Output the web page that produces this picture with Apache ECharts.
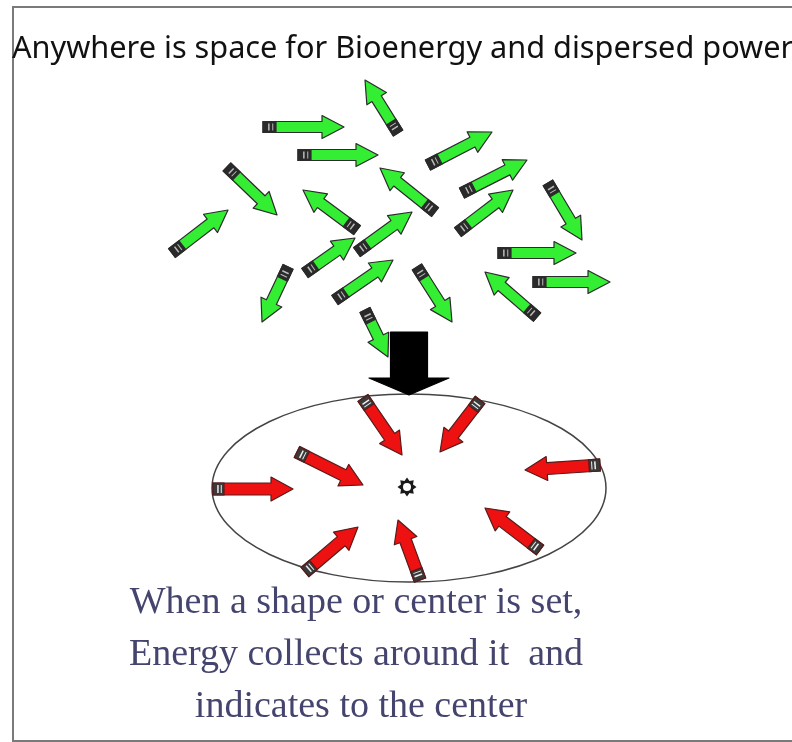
<!DOCTYPE html>
<html>
<head>
<meta charset="utf-8">
<script src="https://cdn.jsdelivr.net/npm/echarts@6/dist/echarts.min.js"></script>
<style>html,body{margin:0;padding:0;background:#fff}#c{width:792px;height:742px}</style>
</head>
<body>
<div id="c"></div>
<script>
// Scattered energy arrows: [tailX, tailY, headX, headY]
var greenArrows = [
  [398,133,365,80],
  [263,127,344,127],
  [298,155,378,155],
  [227,167,277,215],
  [172,253,228,210],
  [357,230,303,190],
  [435,212,380,168],
  [305,273,355,238],
  [357,252,412,212],
  [288,267,262,322],
  [335,300,393,260],
  [417,267,452,322],
  [365,310,388,357],
  [428,165,492,132],
  [462,193,527,160],
  [458,232,513,190],
  [548,183,582,240],
  [498,253,576,253],
  [533,282,610,282],
  [537,317,485,272]
];
// Collected arrows pointing to the center
var redArrows = [
  [363,398,402,455],
  [480,400,440,452],
  [297,452,363,485],
  [213,489,293,489],
  [600,465,525,470],
  [540,550,485,508],
  [420,580,398,520],
  [305,572,358,527]
];
var bigArrow = [[409,332,409,395]];
var ellipseData = [[409,488,197,94]];
var centerMark = [[407,487]];
var titleText = 'Anywhere is space for Bioenergy and dispersed power';
var captionLines = ['When a shape or center is set,', 'Energy collects around it  and', 'indicates to the center'];

function makeArrowRender(fill, stroke, w, h, hl, capLen, capFill, stripe) {
  return function (params, api) {
    var p1 = api.coord([api.value(0), api.value(1)]);
    var p2 = api.coord([api.value(2), api.value(3)]);
    var dx = p2[0] - p1[0], dy = p2[1] - p1[1];
    var L = Math.sqrt(dx * dx + dy * dy);
    var ang = Math.atan2(dy, dx);
    var pts = [[0,-w],[L-hl,-w],[L-hl,-h],[L,0],[L-hl,h],[L-hl,w],[0,w]];
    var children = [{
      type: 'polygon', shape: { points: pts },
      style: { fill: fill, stroke: stroke, lineWidth: 1.2, lineJoin: 'round' }
    }];
    if (capLen > 0) {
      children.push({ type: 'rect', shape: { x: 0, y: -w, width: capLen, height: 2 * w },
        style: { fill: capFill, stroke: stroke, lineWidth: 1.2 } });
      children.push({ type: 'line', shape: { x1: capLen * 0.45, y1: -w + 2, x2: capLen * 0.45, y2: w - 2 },
        style: { stroke: stripe, lineWidth: 1.5 } });
      children.push({ type: 'line', shape: { x1: capLen * 0.75, y1: -w + 2, x2: capLen * 0.75, y2: w - 2 },
        style: { stroke: stripe, lineWidth: 1 } });
    }
    return { type: 'group', x: p1[0], y: p1[1], rotation: -ang, children: children };
  };
}

var chart = echarts.init(document.getElementById('c'), null, { renderer: 'canvas' });
chart.setOption({
  animation: false,
  backgroundColor: '#ffffff',
  grid: { left: 0, right: 0, top: 0, bottom: 0, containLabel: false },
  xAxis: { type: 'value', min: 0, max: 792, show: false },
  yAxis: { type: 'value', min: 0, max: 742, inverse: true, show: false },
  graphic: [
    { type: 'rect', shape: { x: 13, y: 7, width: 800, height: 734 },
      style: { fill: 'none', stroke: '#7a7a7a', lineWidth: 2 }, z: 0 },
    { type: 'text', x: 12, y: 49,
      style: { text: titleText, font: '30.7px "Noto Sans"', fill: '#111', textVerticalAlign: 'middle' }, z: 10 },
    { type: 'text', x: 356, y: 603,
      style: { text: captionLines[0], font: '38px "Liberation Serif"', fill: '#44446e', textAlign: 'center', textVerticalAlign: 'middle' }, z: 10 },
    { type: 'text', x: 356, y: 655,
      style: { text: captionLines[1], font: '38px "Liberation Serif"', fill: '#44446e', textAlign: 'center', textVerticalAlign: 'middle' }, z: 10 },
    { type: 'text', x: 361, y: 707,
      style: { text: captionLines[2], font: '38px "Liberation Serif"', fill: '#44446e', textAlign: 'center', textVerticalAlign: 'middle' }, z: 10 }
  ],
  series: [
    {
      type: 'custom', name: 'ellipse', clip: false, z: 2,
      data: ellipseData,
      renderItem: function (params, api) {
        var c = api.coord([api.value(0), api.value(1)]);
        var s = api.size([api.value(2), api.value(3)]);
        return { type: 'ellipse', shape: { cx: c[0], cy: c[1], rx: s[0], ry: s[1] },
          style: { fill: 'none', stroke: '#444', lineWidth: 1.5 } };
      }
    },
    {
      type: 'custom', name: 'green', clip: false, z: 3,
      data: greenArrows,
      renderItem: makeArrowRender('#33ee33', '#2b2b2b', 5.5, 11.5, 22, 13, '#2a2a2a', '#bbbbbb')
    },
    {
      type: 'custom', name: 'big', clip: false, z: 4,
      data: bigArrow,
      renderItem: makeArrowRender('#000000', '#000000', 18.5, 40, 17, 0, '#000', '#000')
    },
    {
      type: 'custom', name: 'red', clip: false, z: 3,
      data: redArrows,
      renderItem: makeArrowRender('#ee1111', '#5a1a1a', 6, 12, 22, 11, '#3a3a3a', '#eeeeee')
    },
    {
      type: 'custom', name: 'center', clip: false, z: 5,
      data: centerMark,
      renderItem: function (params, api) {
        var c = api.coord([api.value(0), api.value(1)]);
        var pts = [];
        for (var i = 0; i < 16; i++) {
          var r = (i % 2 === 0) ? 9.5 : 6.5;
          var a = i * Math.PI / 8;
          pts.push([c[0] + r * Math.cos(a), c[1] + r * Math.sin(a)]);
        }
        return { type: 'group', children: [
          { type: 'polygon', shape: { points: pts }, style: { fill: '#1a1a1a' } },
          { type: 'circle', shape: { cx: c[0], cy: c[1], r: 4 }, style: { fill: '#ffffff' } }
        ] };
      }
    }
  ]
});
</script>
</body>
</html>
